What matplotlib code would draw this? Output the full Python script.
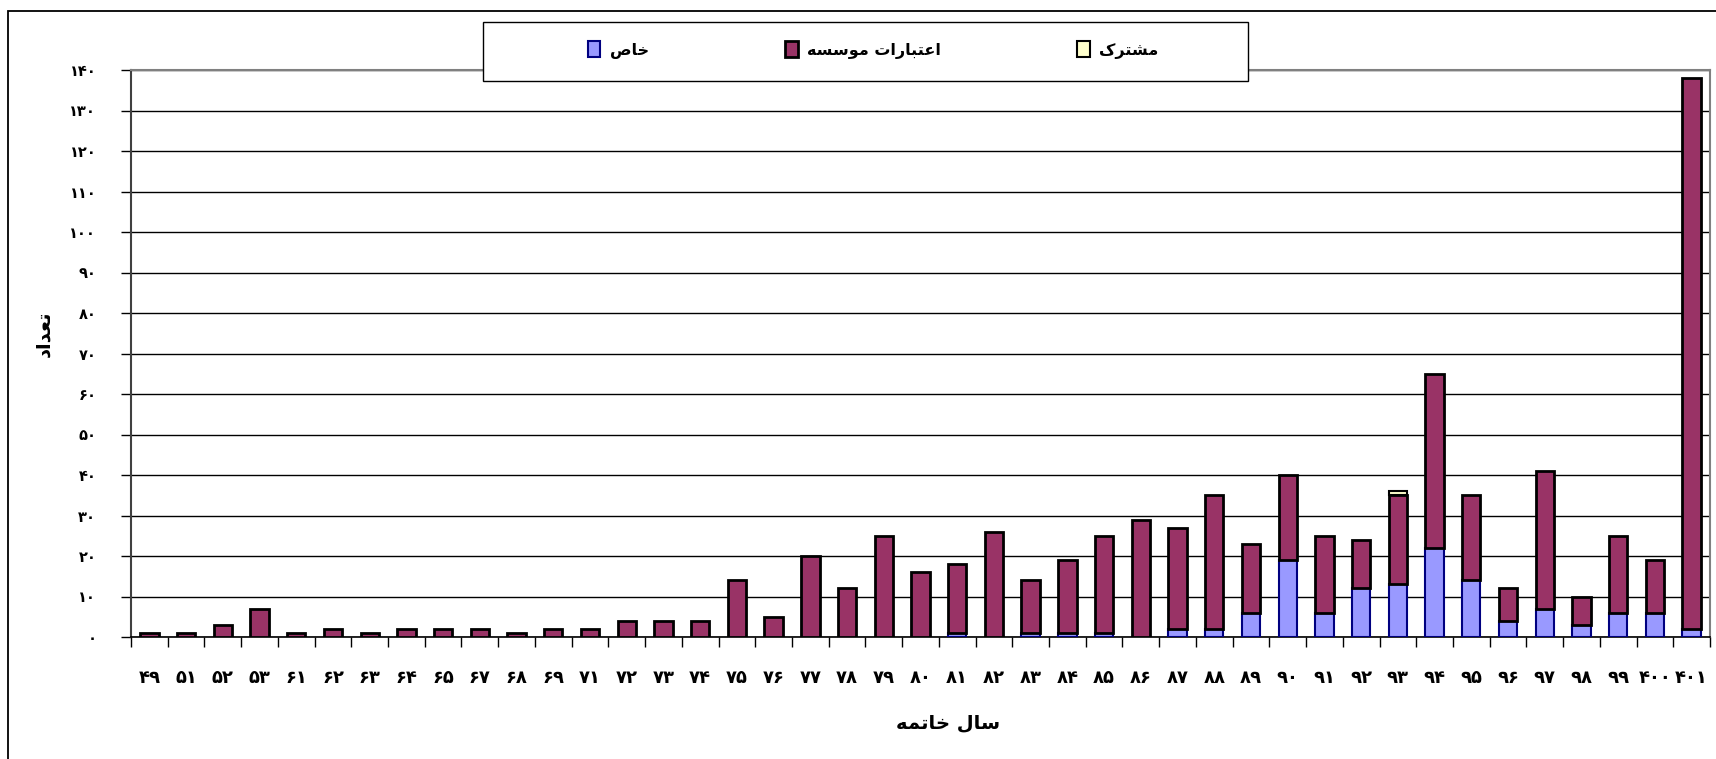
import matplotlib
matplotlib.use("Agg")
import matplotlib.pyplot as plt
from matplotlib.patches import Rectangle
import numpy as np

plt.rcParams['font.family'] = ['DejaVu Sans']
plt.rcParams['font.weight'] = 'bold'

# data
years = [49, 51, 52, 53, 61, 62, 63, 64, 65, 67, 68, 69, 71, 72, 73, 74, 75, 76, 77, 78, 79,
         80, 81, 82, 83, 84, 85, 86, 87, 88, 89, 90, 91, 92, 93, 94, 95, 96, 97, 98, 99, 400, 401]
khas = [0, 0, 0, 0, 0, 0, 0, 0, 0, 0, 0, 0, 0, 0, 0, 0, 0, 0, 0, 0, 0,
        0, 1, 0, 1, 1, 1, 0, 2, 2, 6, 19, 6, 12, 13, 22, 14, 4, 7, 3, 6, 6, 2]
moasese = [1, 1, 3, 7, 1, 2, 1, 2, 2, 2, 1, 2, 2, 4, 4, 4, 14, 5, 20, 12, 25,
           16, 17, 26, 13, 18, 24, 29, 25, 33, 17, 21, 19, 12, 22, 43, 21, 8, 34, 7, 19, 13, 136]
moshtarak = [0] * 34 + [1] + [0] * 8
yticks = list(range(0, 141, 10))

lbl_khas = "خاص"
lbl_moasese = "اعتبارات موسسه"
lbl_moshtarak = "مشترک"
lbl_x = "سال خاتمه"
lbl_y = "تعداد"

# matplotlib has no arabic shaping, so do a tiny one here
forms = {
    'ا': (0xFE8D, 0xFE8E, None, None), 'ب': (0xFE8F, 0xFE90, 0xFE91, 0xFE92),
    'ت': (0xFE95, 0xFE96, 0xFE97, 0xFE98), 'خ': (0xFEA5, 0xFEA6, 0xFEA7, 0xFEA8),
    'د': (0xFEA9, 0xFEAA, None, None), 'ر': (0xFEAD, 0xFEAE, None, None),
    'س': (0xFEB1, 0xFEB2, 0xFEB3, 0xFEB4), 'ش': (0xFEB5, 0xFEB6, 0xFEB7, 0xFEB8),
    'ص': (0xFEB9, 0xFEBA, 0xFEBB, 0xFEBC), 'ع': (0xFEC9, 0xFECA, 0xFECB, 0xFECC),
    'ل': (0xFEDD, 0xFEDE, 0xFEDF, 0xFEE0), 'م': (0xFEE1, 0xFEE2, 0xFEE3, 0xFEE4),
    'ه': (0xFEE9, 0xFEEA, 0xFEEB, 0xFEEC), 'و': (0xFEED, 0xFEEE, None, None),
    'ک': (0xFB8E, 0xFB8F, 0xFB90, 0xFB91),
}


def shape(s):
    out = []
    for i, c in enumerate(s):
        if c not in forms:
            out.append(c)
            continue
        prv = s[i - 1] if i > 0 else ''
        nxt = s[i + 1] if i < len(s) - 1 else ''
        jp = prv in forms and forms[prv][2] is not None
        jn = nxt in forms and forms[c][2] is not None
        iso, fin, ini, med = forms[c]
        if jp and jn:
            code = med
        elif jp:
            code = fin
        elif jn:
            code = ini
        else:
            code = iso
        out.append(chr(code))
    return ''.join(out)[::-1]


def fa(n):
    return str(n).translate(str.maketrans('0123456789', '۰۱۲۳۴۵۶۷۸۹'))


khas = np.array(khas)
moasese = np.array(moasese)
moshtarak = np.array(moshtarak)
x = np.arange(len(years))

fig = plt.figure(figsize=(17.16, 7.59), dpi=100)
ax = fig.add_axes([131 / 1716, 1 - 637 / 759, (1710 - 131) / 1716, (637 - 70) / 759])

w = 0.5
m = khas > 0
ax.bar(x[m], khas[m], w, color='#9999FF', edgecolor='#000080', lw=1.5, zorder=3,
       label=shape(lbl_khas))
m = moasese > 0
ax.bar(x[m], moasese[m], w, bottom=khas[m], color='#993366', edgecolor='black', lw=2,
       zorder=3, label=shape(lbl_moasese))
m = moshtarak > 0
ax.bar(x[m], moshtarak[m], w, bottom=(khas + moasese)[m], color='#FFFFCC',
       edgecolor='black', lw=1.5, zorder=3, label=shape(lbl_moshtarak))

ax.set_xlim(-0.5, len(years) - 0.5)
ax.set_ylim(0, 140)
ax.set_yticks(yticks)
ax.set_yticklabels([fa(v) for v in yticks], fontsize=10.5, fontweight='bold')
ax.yaxis.grid(True, color='black', lw=1, zorder=0)
ax.tick_params(axis='y', direction='out', length=7, width=1, pad=18)

ax.set_xticks(np.arange(len(years) + 1) - 0.5)
ax.set_xticklabels([])
ax.set_xticks(x, minor=True)
ax.set_xticklabels([fa(v) for v in years], minor=True, fontsize=13, fontweight='bold')
ax.tick_params(axis='x', which='major', direction='out', length=7, width=1)
ax.tick_params(axis='x', which='minor', length=0, pad=23)

for side in ['top', 'right']:
    ax.spines[side].set_color('#808080')
    ax.spines[side].set_linewidth(1.5)
ax.spines['left'].set_color('#404040')
ax.spines['left'].set_linewidth(1.5)
ax.spines['bottom'].set_linewidth(1.2)

ax.set_xlabel(shape(lbl_x), fontsize=14, fontweight='bold')
ax.xaxis.set_label_coords((948 - 131) / 1579, -(713 - 637) / 567)
ax.set_ylabel(shape(lbl_y), fontsize=14, fontweight='bold')
ax.yaxis.set_label_coords(-(131 - 53) / 1579, (637 - 334) / 567)

# legend box drawn separately so it keeps the reference size
fig.add_artist(Rectangle((483 / 1716, 1 - 81 / 759), (1248 - 483) / 1716, 59 / 759,
                         fill=True, facecolor='white', lw=1, edgecolor='black',
                         transform=fig.transFigure, zorder=4))
leg = fig.legend(loc='center', ncol=3, bbox_to_anchor=(873 / 1716, 1 - 50 / 759),
                 frameon=False, prop={'size': 11.5, 'weight': 'bold'},
                 handlelength=0.8, handleheight=1.1, handletextpad=0.6,
                 columnspacing=8.5)
leg.set_zorder(5)

fig.add_artist(Rectangle((8 / 1716, -0.05), 1.1, 1 - 11 / 759 + 0.05, fill=False,
                         lw=1.3, edgecolor='black', transform=fig.transFigure))

fig.savefig('out.png', dpi=100)
